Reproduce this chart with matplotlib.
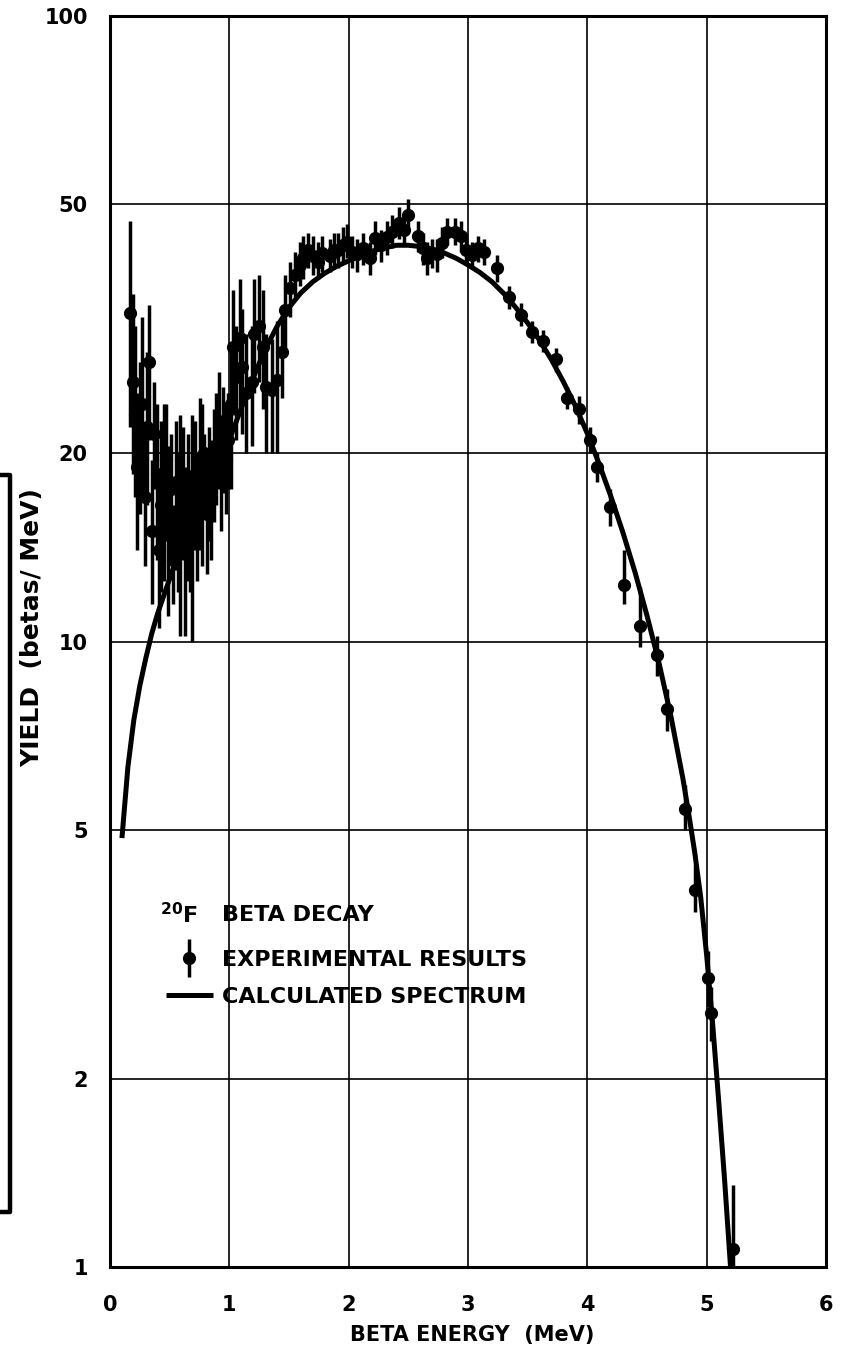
import matplotlib
matplotlib.use("Agg")
import matplotlib.pyplot as plt
from matplotlib.lines import Line2D
from matplotlib.legend_handler import HandlerErrorbar
from matplotlib.ticker import NullLocator, FixedLocator, FixedFormatter
import numpy as np

plt.rcParams['font.family'] = ['DejaVu Sans']
plt.rcParams['font.weight'] = 'bold'
plt.rcParams['mathtext.default'] = 'bf'

# ---- measured spectrum: energy (MeV), yield, lower and upper error bounds ----
exp_energy = [
    0.17, 0.19, 0.21, 0.23, 0.25, 0.27, 0.29, 0.31, 0.33, 0.35, 0.37, 0.39, 0.41, 0.43,
    0.45, 0.47, 0.49, 0.51, 0.53, 0.55, 0.57, 0.59, 0.61, 0.63, 0.65, 0.67, 0.69, 0.71,
    0.73, 0.75, 0.77, 0.79, 0.81, 0.83, 0.85, 0.87, 0.89, 0.91, 0.93, 0.95, 0.97, 0.99,
    1.01, 1.03, 1.06, 1.09, 1.11, 1.14, 1.19, 1.21, 1.25, 1.28, 1.31, 1.36, 1.40, 1.44,
    1.47, 1.51, 1.55, 1.59, 1.62, 1.66, 1.70, 1.74, 1.78, 1.84, 1.88, 1.91, 1.95, 1.99,
    2.03, 2.07, 2.12, 2.18, 2.22, 2.27, 2.32, 2.36, 2.42, 2.46, 2.50, 2.58, 2.62, 2.66,
    2.70, 2.74, 2.78, 2.82, 2.89, 2.94, 2.98, 3.03, 3.08, 3.13, 3.24, 3.34, 3.44, 3.54,
    3.63, 3.74, 3.83, 3.93, 4.02, 4.08, 4.19, 4.31, 4.44, 4.58, 4.67, 4.82, 4.90, 5.01,
    5.04, 5.22,
]
exp_yield = [
    33.5, 26.0, 23.0, 19.0, 21.5, 24.0, 17.0, 22.0, 28.0, 15.0, 21.5, 18.5, 14.0, 16.5,
    17.0, 19.5, 15.5, 17.5, 13.5, 18.0, 16.0, 15.5, 18.0, 14.0, 17.0, 15.0, 15.5, 18.5,
    16.0, 19.0, 17.5, 20.0, 16.0, 18.0, 17.0, 19.0, 20.5, 21.5, 18.5, 21.0, 19.5, 21.0,
    24.0, 29.6, 26.5, 30.6, 27.5, 25.0, 26.0, 31.0, 32.0, 29.6, 25.5, 25.2, 26.2, 29.0,
    33.9, 36.7, 38.6, 40.0, 41.0, 42.2, 41.4, 40.5, 41.8, 41.4, 42.2, 42.2, 43.1, 43.5,
    42.0, 41.7, 42.5, 41.0, 44.2, 43.0, 44.3, 45.2, 46.7, 45.5, 48.0, 44.5, 42.5, 41.0,
    41.8, 41.6, 43.4, 45.2, 45.2, 44.5, 42.3, 41.5, 42.5, 42.0, 39.5, 35.5, 33.3, 31.2,
    30.2, 28.3, 24.5, 23.5, 21.0, 19.0, 16.4, 12.3, 10.6, 9.5, 7.8, 5.4, 4.0, 2.9,
    2.55, 1.07,
]
exp_low = [
    22.0, 18.5, 17.0, 14.0, 16.0, 17.0, 13.2, 16.5, 21.0, 11.5, 17.5, 13.5, 10.5, 12.0,
    12.5, 14.5, 11.0, 13.5, 11.5, 13.0, 12.0, 10.2, 13.5, 10.2, 12.5, 12.0, 10.0, 14.0,
    12.5, 14.0, 13.2, 16.0, 12.8, 14.5, 13.5, 15.5, 16.5, 17.5, 15.0, 17.3, 16.0, 17.5,
    17.5, 23.0, 21.0, 23.5, 21.5, 20.0, 20.5, 25.0, 26.0, 23.5, 20.0, 20.0, 20.0, 24.5,
    29.5, 33.0, 35.5, 37.0, 38.0, 39.5, 38.5, 38.0, 39.0, 39.0, 39.5, 39.5, 40.5, 41.0,
    39.5, 39.0, 40.0, 38.5, 41.5, 40.5, 41.5, 42.5, 44.0, 43.0, 45.5, 42.0, 40.0, 38.5,
    39.5, 39.0, 41.0, 43.0, 43.0, 42.0, 40.0, 39.5, 40.5, 40.0, 37.5, 34.0, 32.0, 30.0,
    29.0, 27.0, 23.5, 22.3, 20.0, 18.0, 15.3, 11.5, 9.8, 8.8, 7.2, 5.0, 3.7, 2.6,
    2.3, 1.0,
]
exp_high = [
    47.0, 36.0, 32.0, 25.0, 28.0, 33.0, 21.5, 29.0, 34.5, 19.5, 26.0, 24.0, 18.5, 22.5,
    24.0, 24.0, 20.5, 21.5, 16.5, 22.5, 20.0, 23.0, 22.0, 19.0, 21.5, 18.5, 23.0, 22.5,
    20.0, 24.5, 24.0, 21.5, 20.0, 22.0, 21.0, 23.5, 25.0, 27.0, 23.0, 25.5, 24.0, 25.0,
    30.0, 36.5, 32.0, 38.0, 34.0, 31.0, 32.0, 38.0, 38.5, 36.5, 31.0, 30.5, 32.5, 34.0,
    38.5, 40.5, 42.0, 43.5, 44.5, 45.0, 44.5, 43.5, 44.5, 44.0, 45.0, 45.0, 46.0, 46.5,
    44.5, 44.0, 45.0, 43.5, 47.0, 45.5, 47.0, 48.0, 49.5, 48.0, 51.0, 47.0, 45.0, 43.5,
    44.0, 44.0, 46.0, 47.5, 47.5, 47.0, 44.5, 43.5, 44.5, 44.0, 41.5, 37.0, 34.8, 32.5,
    31.5, 29.5, 25.5, 24.7, 22.0, 20.0, 17.5, 14.0, 12.2, 10.2, 8.4, 5.9, 4.4, 3.2,
    2.8, 1.35,
]

# ---- calculated spectrum ----
calc_energy = [
    0.10, 0.15, 0.20, 0.25, 0.30, 0.35, 0.40, 0.50, 0.60, 0.70, 0.80, 0.90, 1.00, 1.10,
    1.20, 1.30, 1.40, 1.50, 1.60, 1.70, 1.80, 1.90, 2.00, 2.10, 2.20, 2.30, 2.40, 2.50,
    2.60, 2.70, 2.80, 2.90, 3.00, 3.10, 3.20, 3.30, 3.40, 3.50, 3.60, 3.70, 3.80, 3.90,
    4.00, 4.10, 4.20, 4.30, 4.40, 4.50, 4.60, 4.70, 4.80, 4.85, 4.90, 4.95, 5.00, 5.05,
    5.10, 5.15, 5.20,
]
calc_yield = [
    4.85, 6.3, 7.5, 8.5, 9.4, 10.3, 11.1, 12.6, 14.3, 16.0, 17.6, 19.2, 21.0, 23.6,
    26.4, 29.3, 31.9, 34.2, 36.1, 37.6, 38.8, 39.8, 40.6, 41.4, 42.1, 42.6, 43.0, 43.0,
    42.8, 42.4, 41.8, 41.0, 40.0, 38.9, 37.6, 36.0, 34.2, 32.3, 30.3, 28.2, 26.0, 23.8,
    21.5, 19.2, 17.0, 14.9, 12.9, 11.0, 9.25, 7.6, 6.05, 5.3, 4.6, 3.9, 3.15, 2.45,
    1.85, 1.38, 1.0,
]

x_ticks = [0, 1, 2, 3, 4, 5, 6]
x_tick_labels = ["0", "1", "2", "3", "4", "5", "6"]
y_ticks = [1, 2, 5, 10, 20, 50, 100]
y_tick_labels = ["1", "2", "5", "10", "20", "50", "100"]

W, H = 856, 1347
fig = plt.figure(figsize=(W / 100, H / 100), dpi=100)
fig.patch.set_facecolor("white")
ax = fig.add_axes([110 / W, 1 - 1267 / H, 716 / W, 1251 / H])

ax.set_yscale("log")
ax.set_xlim(0, 6)
ax.set_ylim(1, 100)

ax.xaxis.set_major_locator(FixedLocator(x_ticks))
ax.xaxis.set_major_formatter(FixedFormatter(x_tick_labels))
ax.yaxis.set_major_locator(FixedLocator(y_ticks))
ax.yaxis.set_major_formatter(FixedFormatter(y_tick_labels))
ax.yaxis.set_minor_locator(NullLocator())
ax.xaxis.set_minor_locator(NullLocator())

ax.grid(True, which="major", color="black", linewidth=1.2)
ax.set_axisbelow(True)
for sp in ax.spines.values():
    sp.set_linewidth(2.2)
    sp.set_color("black")

ax.tick_params(axis="both", which="major", length=0, labelsize=15, colors="black")
ax.tick_params(axis="y", pad=16)
ax.tick_params(axis="x", pad=20)
for lbl in ax.get_xticklabels() + ax.get_yticklabels():
    lbl.set_fontweight("bold")

# error bars as (lower, upper) offsets from the points
e = np.array(exp_energy)
y = np.array(exp_yield)
yerr = np.vstack([y - np.array(exp_low), np.array(exp_high) - y])

eb = ax.errorbar(e, y, yerr=yerr, fmt="o", color="black", ms=8.5, elinewidth=2.5,
                 capsize=0, label="EXPERIMENTAL RESULTS", zorder=3)
line, = ax.plot(calc_energy, calc_yield, color="black", linewidth=3.6,
                solid_capstyle="butt", solid_joinstyle="round",
                label="CALCULATED SPECTRUM", zorder=4)

# key: isotope heading, then the two entries
ax.text((160 - 110) / 716, (1267 - 915) / 1251, "$^{20}$F", transform=ax.transAxes,
        ha="left", va="center", fontsize=16, fontweight="bold")
ax.text((222 - 110) / 716, (1267 - 915) / 1251, "BETA DECAY", transform=ax.transAxes,
        ha="left", va="center", fontsize=16, fontweight="bold")

leg = ax.legend(handles=[eb, line], loc="upper left",
                bbox_to_anchor=((166 - 110) / 716, (1267 - 950) / 1251),
                frameon=False, fontsize=16, handlelength=2.1,
                handletextpad=0.42, labelspacing=0.75, borderpad=0, borderaxespad=0,
                handler_map={type(eb): HandlerErrorbar(yerr_size=0.85)})
for t in leg.get_texts():
    t.set_fontweight("bold")

fig.text(472 / W, 1 - 1335 / H, "BETA ENERGY  (MeV)", ha="center", va="center",
         fontsize=15, fontweight="bold")
fig.text(32 / W, 1 - 628 / H, "YIELD  (betas/ MeV)", ha="center", va="center",
         rotation=90, fontsize=18, fontweight="bold")

# bracket mark along the left margin
fig.add_artist(Line2D([0 / W, 10 / W, 10 / W, 0 / W],
                      [1 - 475 / H, 1 - 475 / H, 1 - 1212 / H, 1 - 1212 / H],
                      transform=fig.transFigure, color="black", linewidth=3.2))

fig.savefig("out.png", dpi=100, facecolor="white")
